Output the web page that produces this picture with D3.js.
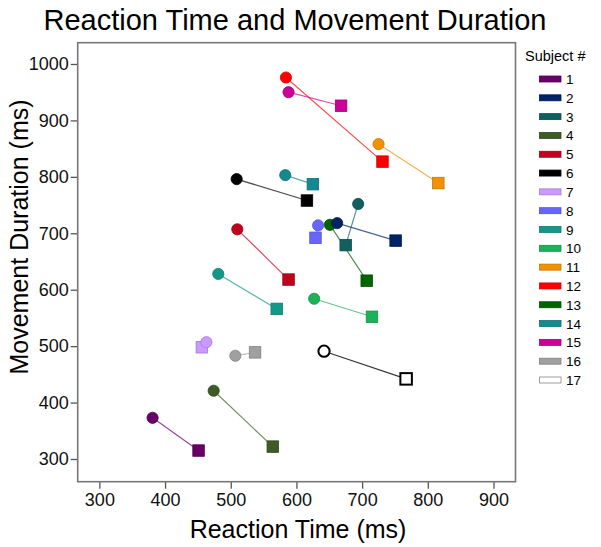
<!DOCTYPE html>
<html>
<head>
<meta charset="utf-8">
<script src="https://cdn.jsdelivr.net/npm/d3@7"></script>
<style>
  html, body { margin: 0; padding: 0; background: #fff; }
  svg { display: block; font-family: "Liberation Sans", Arial, sans-serif; }
</style>
</head>
<body>
<svg id="chart" width="601" height="547"></svg>
<script>
// ---- data ----
const subjects = ["1","2","3","4","5","6","7","8","9","10","11","12","13","14","15","16","17"];
// circle marker (first condition)
const rtCircle = [381, 662, 694, 474, 510, 509, 463, 633, 481, 627, 725, 584, 651, 583, 588, 507, 642];
const mdCircle = [373, 718, 752, 421, 707, 796, 507, 714, 628, 584, 858, 976, 715, 803, 950, 483, 491];
// square marker (second condition)
const rtSquare = [451, 751, 675, 564, 588, 616, 456, 629, 570, 715, 816, 731, 707, 625, 668, 537, 767];
const mdSquare = [315, 687, 679, 322, 618, 758, 498, 692, 566, 552, 789, 827, 616, 787, 926, 489, 442];
const colors = ["#660066", "#002366", "#11605f", "#3e5b27", "#c0001c", "#000000", "#cc99ff", "#6666ff",
                "#13998a", "#1cb25a", "#f39200", "#ff0000", "#006400", "#138a90", "#cc0099", "#a0a0a0", "#ffffff"];
const xTicks = [300, 400, 500, 600, 700, 800, 900];
const yTicks = [300, 400, 500, 600, 700, 800, 900, 1000];

const rows = subjects.map((s, i) => ({
  s, color: colors[i],
  c: [rtCircle[i], mdCircle[i]], q: [rtSquare[i], mdSquare[i]]
}));

const svg = d3.select("#chart");
const L = 77.7, R = 515.5, T = 42.7, B = 481.7;

const x = d3.scaleLinear().domain([267, 933.5]).range([L, R]);
const y = d3.scaleLinear().domain([259.8, 1037.7]).range([B, T]);

function strokeOf(c) {
  if (c === "#ffffff") return "#000";
  return d3.color(c).darker(0.6).formatHex();
}

// title
svg.append("text").attr("x", 295).attr("y", 30).attr("text-anchor", "middle")
  .attr("font-size", 29).attr("fill", "#000").text("Reaction Time and Movement Duration");

// axes
const xAxis = svg.append("g").attr("transform", `translate(0,${B})`)
  .call(d3.axisBottom(x).tickValues(xTicks).tickSize(7).tickPadding(5).tickFormat(d3.format("d")));
const yAxis = svg.append("g").attr("transform", `translate(${L},0)`)
  .call(d3.axisLeft(y).tickValues(yTicks).tickSize(7).tickPadding(2).tickFormat(d3.format("d")));
[xAxis, yAxis].forEach(g => {
  g.select(".domain").remove();
  g.selectAll(".tick line").attr("stroke", "#555").attr("stroke-width", 1.3);
  g.selectAll(".tick text").attr("font-size", 18).attr("fill", "#111")
    .attr("font-family", "'Liberation Sans', Arial, sans-serif");
});

// frame
svg.append("rect").attr("x", L).attr("y", T).attr("width", R - L).attr("height", B - T)
  .attr("fill", "none").attr("stroke", "#777").attr("stroke-width", 1.6);

// axis titles
svg.append("text").attr("x", 298).attr("y", 538).attr("text-anchor", "middle")
  .attr("font-size", 25).attr("fill", "#000").text("Reaction Time (ms)");
svg.append("text").attr("transform", "translate(28,237) rotate(-90)").attr("text-anchor", "middle")
  .attr("font-size", 25).attr("fill", "#000").text("Movement Duration (ms)");

// connecting lines
const plot = svg.append("g");
plot.selectAll("line.conn").data(rows).join("line").attr("class", "conn")
  .attr("x1", d => x(d.c[0])).attr("y1", d => y(d.c[1]))
  .attr("x2", d => x(d.q[0])).attr("y2", d => y(d.q[1]))
  .attr("stroke", d => d.color === "#ffffff" ? "#222" : d.color)
  .attr("stroke-opacity", d => d.color === "#ffffff" ? 0.9 : 0.7)
  .attr("stroke-width", 1.2);

// squares
const sq = 11.5;
plot.selectAll("rect.sq").data(rows.slice().reverse()).join("rect").attr("class", "sq")
  .attr("x", d => x(d.q[0]) - sq / 2).attr("y", d => y(d.q[1]) - sq / 2)
  .attr("width", sq).attr("height", sq)
  .attr("fill", d => d.color).attr("stroke", d => strokeOf(d.color))
  .attr("stroke-width", d => d.color === "#ffffff" ? 2 : 0.8);

// circles
plot.selectAll("circle.ci").data(rows.slice().reverse()).join("circle").attr("class", "ci")
  .attr("cx", d => x(d.c[0])).attr("cy", d => y(d.c[1])).attr("r", 5.6)
  .attr("fill", d => d.color).attr("stroke", d => strokeOf(d.color))
  .attr("stroke-width", d => d.color === "#ffffff" ? 2 : 0.8);

// legend
svg.append("text").attr("x", 525).attr("y", 61).attr("font-size", 14.5).attr("fill", "#000").text("Subject #");
const leg = svg.append("g");
const ly = d3.scaleLinear().domain([0, subjects.length - 1]).range([79, 380]);
const items = leg.selectAll("g").data(rows).join("g")
  .attr("transform", (d, i) => `translate(0,${ly(i)})`);
items.append("rect").attr("x", 539.5).attr("y", -3).attr("width", 21.5).attr("height", 6)
  .attr("fill", d => d.color).attr("stroke", d => d.color === "#ffffff" ? "#888" : strokeOf(d.color))
  .attr("stroke-width", 0.8);
items.append("text").attr("x", 566).attr("y", 5).attr("font-size", 13.5).attr("fill", "#000")
  .text(d => d.s);
</script>
</body>
</html>
